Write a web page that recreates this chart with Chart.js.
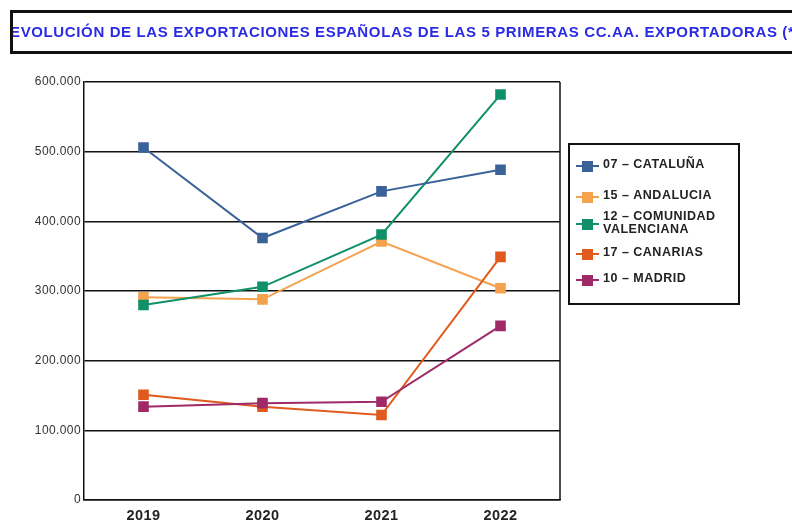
<!DOCTYPE html>
<html>
<head>
<meta charset="utf-8">
<script src="https://cdn.jsdelivr.net/npm/chart.js@4"></script>
<style>
  html, body { margin: 0; padding: 0; background: #fff; }
  #wrap { position: relative; width: 792px; height: 524px; overflow: hidden; }
  #title {
    position: absolute; left: 10px; top: 10px; width: 800px; height: 44px;
    border: 3.5px solid #111; box-sizing: border-box; overflow: hidden;
  }
  #title span {
    position: absolute; left: -3px; top: 10px; white-space: nowrap;
    font: bold 15px "Liberation Sans", Arial, sans-serif; color: #2b2be6;
    letter-spacing: 0.63px;
  }
  #chartBox { position: absolute; left: 0; top: 0; width: 792px; height: 524px; }
</style>
</head>
<body>
<div id="wrap">
  <div id="chartBox"><canvas id="exportChart" width="792" height="524"></canvas></div>
  <div id="title"><span>EVOLUCIÓN DE LAS EXPORTACIONES ESPAÑOLAS DE LAS 5 PRIMERAS CC.AA. EXPORTADORAS (*)</span></div>
</div>
<script>
const years = ['2019', '2020', '2021', '2022'];
const yTicks = [0, 100000, 200000, 300000, 400000, 500000, 600000];

const cataluna   = [506000, 376000, 443000, 474000];
const andalucia  = [291000, 288000, 371000, 304000];
const valenciana = [280000, 306000, 381000, 582000];
const canarias   = [151000, 134000, 122000, 349000];
const madrid     = [134000, 139000, 141000, 250000];

const seriesNames = [
  '07 – CATALUÑA',
  '15 – ANDALUCIA',
  ['12 – COMUNIDAD', 'VALENCIANA'],
  '17 – CANARIAS',
  '10 – MADRID'
];
const seriesColors = ['#3a6299', '#f4a24e', '#10906a', '#e05a1e', '#a02a68'];

// the original text is drawn a bit wider, so spread the letters
const wideText = {
  id: 'wideText',
  beforeDraw(chart) { chart.ctx.letterSpacing = '0.4px'; }
};

// legend drawn inside the canvas, boxed like the original
const boxLegend = {
  id: 'boxLegend',
  afterDraw(chart) {
    const ctx = chart.ctx;
    const rowsY = [166, 197, 224, 254, 280];
    ctx.save();
    ctx.lineWidth = 2;
    ctx.strokeStyle = '#111';
    ctx.strokeRect(569, 144, 170, 160);
    ctx.font = 'bold 12.5px "Liberation Sans", Arial, sans-serif';
    ctx.letterSpacing = '0.5px';
    ctx.textBaseline = 'middle';
    chart.data.datasets.forEach(function(ds, i) {
      const y = rowsY[i];
      ctx.strokeStyle = ds.borderColor;
      ctx.lineWidth = 2;
      ctx.beginPath();
      ctx.moveTo(576, y);
      ctx.lineTo(599, y);
      ctx.stroke();
      ctx.fillStyle = ds.borderColor;
      ctx.fillRect(582, y - 5, 11, 11);
      ctx.fillStyle = '#222';
      const lines = Array.isArray(ds.label) ? ds.label : [ds.label];
      lines.forEach(function(t, k) {
        ctx.fillText(t, 603, y + (k - (lines.length - 1) / 2) * 13 - 1);
      });
    });
    ctx.restore();
  }
};

// right border of the plot area
const frame = {
  id: 'frame',
  beforeDatasetsDraw(chart) {
    const a = chart.chartArea;
    const ctx = chart.ctx;
    ctx.save();
    ctx.strokeStyle = '#111';
    ctx.lineWidth = 1.5;
    ctx.beginPath();
    ctx.moveTo(a.right, a.top);
    ctx.lineTo(a.right, a.bottom);
    ctx.stroke();
    ctx.restore();
  }
};

const allData = [cataluna, andalucia, valenciana, canarias, madrid];
const drawOrder = [0, 4, 2, 3, 1];

createChart();

function createChart() {
  const ctx = document.getElementById('exportChart').getContext('2d');
  new Chart(ctx, {
    type: 'line',
    data: {
      labels: years,
      datasets: allData.map(function(vals, i) {
        return {
          label: seriesNames[i],
          data: vals,
          fill: false,
          borderColor: seriesColors[i],
          backgroundColor: seriesColors[i],
          borderWidth: 2,
          pointStyle: 'rect',
          pointRadius: 7.5,
          pointBorderWidth: 0,
          tension: 0,
          order: drawOrder[i]
        };
      })
    },
    options: {
      responsive: false,
      animation: false,
      devicePixelRatio: 1,
      layout: { padding: { left: 0, right: 232, top: 82, bottom: 0 } },
      plugins: {
        legend: { display: false },
        tooltip: { enabled: false }
      },
      scales: {
        x: {
          offset: true,
          grid: { display: false, drawTicks: false },
          border: { color: '#111', width: 1.5 },
          ticks: {
            color: '#222',
            padding: 7,
            font: { family: '"Liberation Sans", Arial, sans-serif', size: 14.5, weight: 'bold' }
          },
          afterFit: function(scale) { scale.height = 24; }
        },
        y: {
          min: 0,
          max: 600000,
          afterBuildTicks: function(scale) {
            scale.ticks = yTicks.map(function(v) { return { value: v }; });
          },
          grid: { color: '#111', lineWidth: 1.5, drawTicks: false },
          border: { color: '#111', width: 1.5 },
          ticks: {
            color: '#333',
            padding: 3,
            font: { family: '"Liberation Sans", Arial, sans-serif', size: 12 },
            callback: function(v) {
              return v.toString().replace(/\B(?=(\d{3})+(?!\d))/g, '.');
            }
          },
          afterFit: function(scale) { scale.width = 84; }
        }
      }
    },
    plugins: [wideText, frame, boxLegend]
  });
}
</script>
</body>
</html>
